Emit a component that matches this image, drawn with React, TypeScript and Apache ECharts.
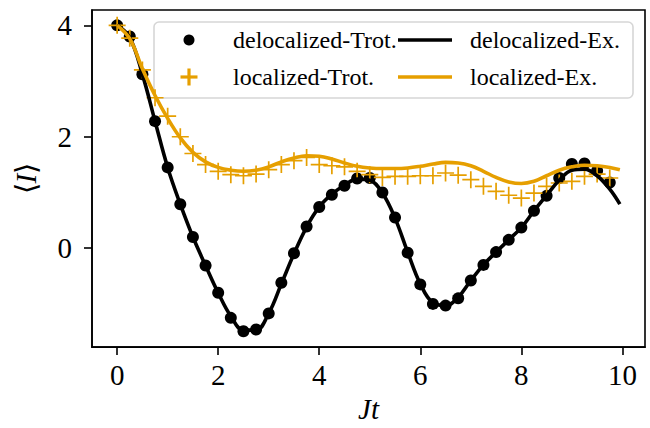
import React, { useEffect, useRef } from "react";
import * as echarts from "echarts";

// Trotter sample times
const tTrot = [
  0, 0.25, 0.5, 0.75, 1.0, 1.25, 1.5, 1.75, 2.0, 2.25, 2.5, 2.75, 3.0, 3.25, 3.5, 3.75,
  4.0, 4.25, 4.5, 4.75, 5.0, 5.25, 5.5, 5.75, 6.0, 6.25, 6.5, 6.75, 7.0, 7.25, 7.5, 7.75,
  8.0, 8.25, 8.5, 8.75, 9.0, 9.25, 9.5, 9.75,
];
const delocTrot = [
  4.0, 3.8, 3.12, 2.28, 1.45, 0.79, 0.2, -0.31, -0.8, -1.25, -1.49, -1.46, -1.17, -0.62, -0.09, 0.39,
  0.74, 0.96, 1.12, 1.25, 1.26, 1.0, 0.55, -0.08, -0.65, -1.0, -1.03, -0.9, -0.58, -0.3, -0.07, 0.15,
  0.37, 0.67, 0.94, 1.26, 1.51, 1.52, 1.39, 1.18,
];
const locTrot = [
  4.0, 3.77, 3.2, 2.7, 2.37, 2.0, 1.7, 1.5, 1.38, 1.32, 1.3, 1.33, 1.41, 1.5, 1.57, 1.63,
  1.5, 1.48, 1.46, 1.38, 1.32, 1.27, 1.29, 1.29, 1.3, 1.3, 1.35, 1.31, 1.23, 1.11, 1.02, 0.95,
  0.9, 0.99, 1.11, 1.17, 1.2, 1.29, 1.33, 1.26,
];

// Exact evolution sample times
const tExact = [
  0, 0.25, 0.5, 0.75, 1.0, 1.25, 1.5, 1.75, 2.0, 2.25, 2.5, 2.75, 3.0, 3.25, 3.5, 3.75,
  4.0, 4.25, 4.5, 4.75, 5.0, 5.25, 5.5, 5.75, 6.0, 6.25, 6.5, 6.75, 7.0, 7.25, 7.5, 7.75,
  8.0, 8.25, 8.5, 8.75, 9.0, 9.25, 9.5, 9.75, 9.95,
];
const delocExact = [
  4.0, 3.78, 3.12, 2.28, 1.45, 0.79, 0.2, -0.31, -0.8, -1.22, -1.47, -1.47, -1.17, -0.64, -0.1, 0.38,
  0.74, 0.97, 1.13, 1.24, 1.22, 0.99, 0.54, -0.07, -0.64, -0.98, -1.03, -0.88, -0.58, -0.3, -0.07, 0.15,
  0.37, 0.67, 0.95, 1.22, 1.4, 1.42, 1.3, 1.06, 0.79,
];
const locExact = [
  4.0, 3.76, 3.22, 2.74, 2.33, 1.98, 1.72, 1.55, 1.45, 1.4, 1.38, 1.4, 1.46, 1.55, 1.62, 1.66,
  1.65, 1.6, 1.53, 1.47, 1.44, 1.43, 1.43, 1.44, 1.47, 1.51, 1.54, 1.53, 1.48, 1.38, 1.27, 1.19,
  1.16, 1.2, 1.3, 1.4, 1.46, 1.49, 1.48, 1.45, 1.41,
];

const xTicks = [0, 2, 4, 6, 8, 10];
const yTicks = [0, 2, 4];

const names = ["delocalized-Trot.", "localized-Trot.", "delocalized-Ex.", "localized-Ex."];

const ORANGE = "#E69F00";
const FONT = "'Liberation Serif', 'Times New Roman', Times, serif";
const PLUS =
  "path://M-0.1,-1H0.1V-0.1H1V0.1H0.1V1H-0.1V0.1H-1V-0.1H-0.1Z";

const zip = (xs: number[], ys: number[]) => xs.map((x, i) => [x, ys[i]]);

export default function App() {
  const ref = useRef<HTMLDivElement>(null);
  useEffect(() => {
    if (!ref.current) return;
    const chart = echarts.init(ref.current, null, { renderer: "svg" });
    const legendX = 154;
    const legendY = 22;
    const row1 = 40;
    const row2 = 77;
    const textStyle = (text: string, x: number, y: number) => ({
      text,
      x,
      y,
      font: `24px ${FONT}`,
      fill: "#000",
      verticalAlign: "middle",
      align: "left",
    });
    chart.setOption({
      animation: false,
      backgroundColor: "#ffffff",
      grid: {
        left: 92,
        right: 5,
        top: 10,
        bottom: 76,
        show: true,
        borderColor: "#000",
        borderWidth: 1.6,
        backgroundColor: "transparent",
      },
      xAxis: {
        type: "value",
        min: -0.4975,
        max: 10.4475,
        name: "Jt",
        nameLocation: "middle",
        nameGap: 44,
        nameTextStyle: {
          fontFamily: FONT,
          fontSize: 29,
          fontStyle: "italic",
          color: "#000",
        },
        axisLine: { show: true, onZero: false, lineStyle: { color: "#000", width: 1.6 } },
        axisTick: {
          show: true,
          length: 8,
          inside: false,
          lineStyle: { color: "#000", width: 1.6 },
          customValues: xTicks,
        },
        axisLabel: {
          margin: 13,
          fontFamily: FONT,
          fontSize: 29,
          color: "#000",
          customValues: xTicks,
        },
        splitLine: { show: false },
      },
      yAxis: {
        type: "value",
        min: -1.775,
        max: 4.275,
        name: "{a|⟨}{b|I}{a|⟩}",
        nameLocation: "middle",
        nameGap: 52,
        nameRotate: 90,
        nameTextStyle: {
          fontFamily: FONT,
          fontSize: 29,
          color: "#000",
          rich: {
            a: { fontFamily: FONT, fontSize: 29, color: "#000" },
            b: { fontFamily: FONT, fontSize: 29, fontStyle: "italic", color: "#000" },
          },
        },
        axisLine: { show: true, onZero: false, lineStyle: { color: "#000", width: 1.6 } },
        axisTick: {
          show: true,
          length: 8,
          inside: false,
          lineStyle: { color: "#000", width: 1.6 },
          customValues: yTicks,
        },
        axisLabel: {
          margin: 20,
          fontFamily: FONT,
          fontSize: 29,
          color: "#000",
          customValues: yTicks,
        },
        splitLine: { show: false },
      },
      series: [
        {
          name: names[0],
          type: "scatter",
          data: zip(tTrot, delocTrot),
          symbol: "circle",
          symbolSize: 12,
          itemStyle: { color: "#000", opacity: 1 },
        },
        {
          name: names[1],
          type: "scatter",
          data: zip(tTrot, locTrot),
          symbol: PLUS,
          symbolSize: 17,
          itemStyle: { color: ORANGE, opacity: 1 },
        },
        {
          name: names[2],
          type: "line",
          data: zip(tExact, delocExact),
          showSymbol: false,
          smooth: 0.4,
          lineStyle: { color: "#000", width: 3.6 },
          itemStyle: { color: "#000" },
        },
        {
          name: names[3],
          type: "line",
          data: zip(tExact, locExact),
          showSymbol: false,
          smooth: 0.4,
          lineStyle: { color: ORANGE, width: 3.6 },
          itemStyle: { color: ORANGE },
        },
      ],
      graphic: [
        {
          type: "group",
          z: 100,
          children: [
            {
              type: "rect",
              shape: { x: legendX, y: legendY, width: 479, height: 76, r: 5 },
              style: { fill: "rgba(255,255,255,0.8)", stroke: "#d6d6d6", lineWidth: 1.6 },
            },
            {
              type: "circle",
              shape: { cx: 189, cy: row1, r: 5.5 },
              style: { fill: "#000" },
            },
            {
              type: "rect",
              shape: { x: 180.5, y: row2 - 1.6, width: 17, height: 3.2 },
              style: { fill: ORANGE },
            },
            {
              type: "rect",
              shape: { x: 187.4, y: row2 - 8.5, width: 3.2, height: 17 },
              style: { fill: ORANGE },
            },
            {
              type: "line",
              shape: { x1: 398, y1: row1, x2: 452, y2: row1 },
              style: { stroke: "#000", lineWidth: 3.6 },
            },
            {
              type: "line",
              shape: { x1: 398, y1: row2, x2: 452, y2: row2 },
              style: { stroke: ORANGE, lineWidth: 3.6 },
            },
            { type: "text", style: textStyle(names[0], 233, row1) },
            { type: "text", style: textStyle(names[1], 233, row2) },
            { type: "text", style: textStyle(names[2], 470, row1) },
            { type: "text", style: textStyle(names[3], 470, row2) },
          ],
        },
      ],
    });
    return () => chart.dispose();
  }, []);
  return (
    <div
      ref={ref}
      style={{ position: "absolute", left: 0, top: 0, width: 650, height: 428 }}
    />
  );
}
